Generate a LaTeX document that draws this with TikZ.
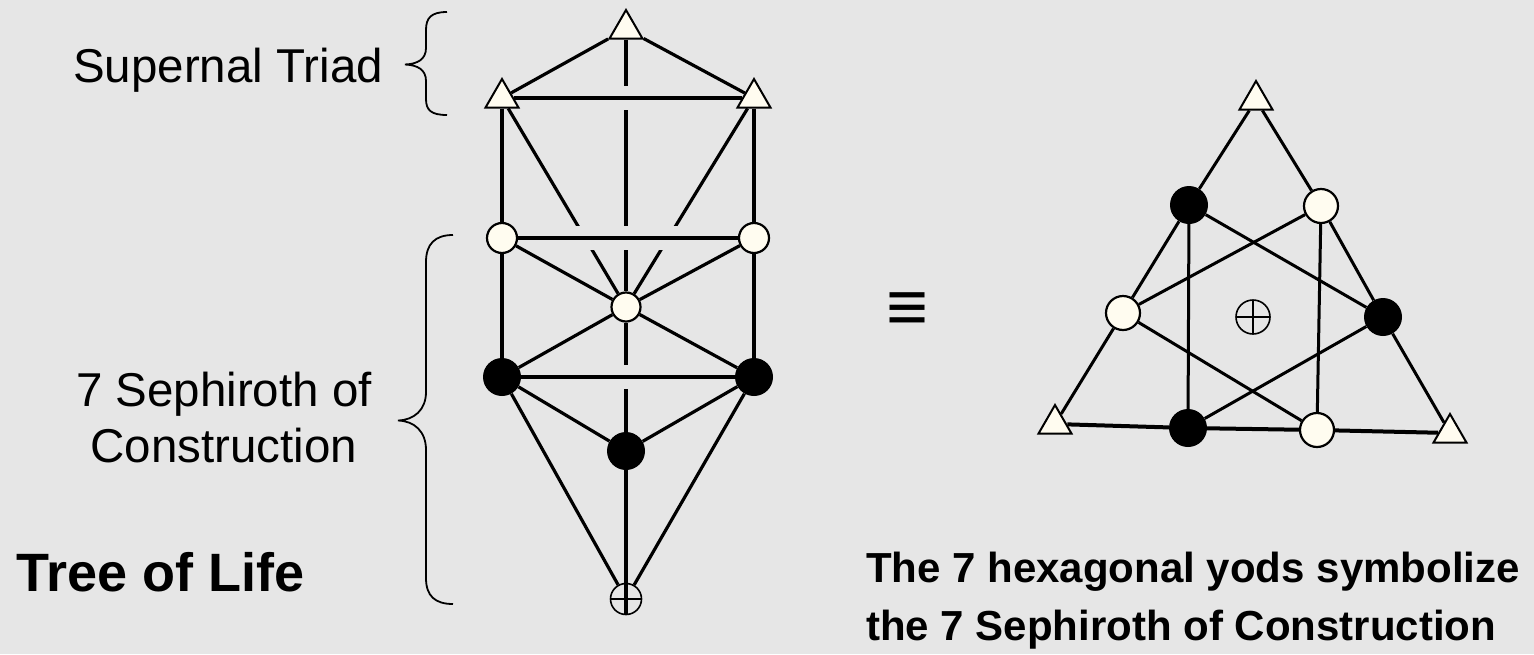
\documentclass[tikz,border=0pt]{standalone}
\usepackage{fontspec}
\setmainfont{Liberation Sans}
\usetikzlibrary{shapes.geometric}
\definecolor{bgc}{RGB}{230,230,230}
\definecolor{cream}{RGB}{255,252,240}
\pgfdeclarelayer{backdrop}
\pgfdeclarelayer{edges}
\pgfsetlayers{backdrop,edges,main}
\begin{document}
\begin{tikzpicture}[x=1pt,y=-1pt,
  tri/.style={regular polygon, regular polygon sides=3, draw=black, fill=cream, line width=2pt, minimum size=38pt, inner sep=0pt},
  wcirc/.style={circle, draw=black, fill=cream, line width=2.2pt, minimum size=#1, inner sep=0pt},
  bcirc/.style={circle, fill=black, minimum size=#1, inner sep=0pt},
  earth/.style={circle, draw=black, line width=1.6pt, minimum size=#1, inner sep=0pt,
    path picture={\draw[line width=1.6pt] (path picture bounding box.west) -- (path picture bounding box.east)
      (path picture bounding box.north) -- (path picture bounding box.south);}},
  straight/.style={line width=4pt},
  diag/.style={line width=3.2pt},
  crossed/.style={line width=4pt, preaction={draw=bgc, line width=24pt, shorten <=30pt, shorten >=30pt}},
  hexline/.style={line width=3pt},
  baseline4/.style={line width=4pt},
  bracestyle/.style={line width=1.8pt},
  lab/.style={font=\fontsize{47.5}{56}\selectfont, inner sep=0pt},
  boldlab/.style={font=\fontsize{42}{50}\selectfont\bfseries, inner sep=0pt, anchor=base west}
]
\begin{pgfonlayer}{backdrop}
\fill[bgc] (0,0) rectangle (1534,654);
\end{pgfonlayer}

% ---------- Tree of Life ----------
\node[tri] (K) at (626,29) {};
\node[tri] (LT) at (502,98) {};
\node[tri] (RT) at (754,98) {};
\node[wcirc=30pt] (LW) at (502,238) {};
\node[wcirc=30pt] (RW) at (754,238) {};
\node[wcirc=29pt] (TW) at (626,307) {};
\node[bcirc=38pt] (LB) at (502,377) {};
\node[bcirc=38pt] (RB) at (754,377) {};
\node[bcirc=38pt] (YB) at (626,451) {};
\node[earth=31pt] (M) at (626,599) {};

\begin{pgfonlayer}{edges}
  \draw[diag] (K) -- (LT);
  \draw[diag] (K) -- (RT);
  \draw[straight] (K) -- (TW);
  \draw[straight] (LT) -- (LW);
  \draw[straight] (RT) -- (RW);
  \draw[diag] (LT) -- (TW);
  \draw[diag] (RT) -- (TW);
  \draw[diag] (LW) -- (TW);
  \draw[diag] (RW) -- (TW);
  \draw[straight] (LW) -- (LB);
  \draw[straight] (RW) -- (RB);
  \draw[diag] (LB) -- (TW);
  \draw[diag] (RB) -- (TW);
  \draw[straight] (TW) -- (YB);
  \draw[diag] (LB) -- (YB);
  \draw[diag] (RB) -- (YB);
  \draw[diag] (LB) -- (M);
  \draw[diag] (RB) -- (M);
  \draw[straight] (YB) -- (M.south);
  \draw[crossed] (LT) -- (RT);
  \draw[crossed] (LW) -- (RW);
  \draw[crossed] (LB) -- (RB);
\end{pgfonlayer}

% braces
\draw[bracestyle] (447,12) .. controls (431,12) and (426,18) .. (426,30) -- (426,48)
  .. controls (426,59) and (418,64) .. (405,64.5) .. controls (418,65) and (426,70) .. (426,81)
  -- (426,99) .. controls (426,110) and (431,115) .. (447,115);
\draw[bracestyle] (453,235) .. controls (435,235) and (426,244) .. (426,262) -- (426,392)
  .. controls (426,410) and (414,420) .. (398,420.5) .. controls (414,421) and (426,431) .. (426,450)
  -- (426,578) .. controls (426,596) and (435,604) .. (453,604);

% labels
\node[lab, anchor=base west] (st) at (73,82) {Supernal Triad};
\node[lab, anchor=base] (s1) at (224,406) {7 Sephiroth of};
\node[lab, anchor=base] (s2) at (224,462) {Construction};
\node[font=\fontsize{54}{60}\selectfont\bfseries, inner sep=0pt, anchor=base west] (tol) at (16,591) {Tree of Life};

% equivalence
\node[font=\fontsize{72}{72}\selectfont, inner sep=0pt] (eq) at (907,312) {≡};

% ---------- Triangle diagram ----------
\node[tri] (T) at (1256,100) {};
\node[tri] (BLt) at (1055,424) {};
\node[tri] (BRt) at (1450,433) {};
\node[bcirc=38pt] (UL) at (1189,205) {};
\node[wcirc=34pt] (UR) at (1321,206) {};
\node[wcirc=34pt] (L) at (1123,313) {};
\node[bcirc=38pt] (R) at (1383,317) {};
\node[bcirc=38pt] (BB) at (1188,428) {};
\node[wcirc=34pt] (BW) at (1317,430) {};
\node[earth=34pt] (O) at (1253,317) {};

\begin{pgfonlayer}{edges}
  \draw[hexline] (T) -- (UL);
  \draw[hexline] (UL) -- (L);
  \draw[hexline] (L) -- (BLt);
  \draw[hexline] (T) -- (UR);
  \draw[hexline] (UR) -- (R);
  \draw[hexline] (R) -- (BRt);
  \draw[baseline4] (BLt) -- (BB);
  \draw[baseline4] (BB) -- (BW);
  \draw[baseline4] (BW) -- (BRt);
  \draw[hexline] (UL) -- (BB);
  \draw[hexline] (UR) -- (BW);
  \draw[hexline] (UL) -- (R);
  \draw[hexline] (UR) -- (L);
  \draw[hexline] (L) -- (BW);
  \draw[hexline] (R) -- (BB);
\end{pgfonlayer}

\node[boldlab] (c1) at (866,582) {The 7 hexagonal yods symbolize};
\node[boldlab] (c2) at (866,640) {the 7 Sephiroth of Construction};
\end{tikzpicture}
\end{document}
